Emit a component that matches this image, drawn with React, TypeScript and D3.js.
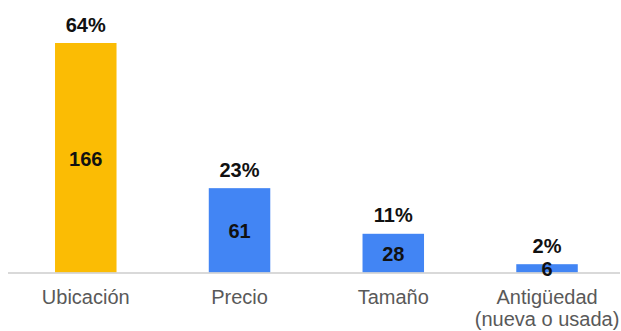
import React from "react";
import * as d3 from "d3";

const categories: string[][] = [["Ubicación"], ["Precio"], ["Tamaño"], ["Antigüedad", "(nueva o usada)"]];
const counts: number[] = [166, 61, 28, 6];
const percents: string[] = ["64%", "23%", "11%", "2%"];
const barColors: string[] = ["#FBBC04", "#4285F4", "#4285F4", "#4285F4"];

const W = 621;
const H = 331;

export default function App() {
  const keys = categories.map((c) => c.join(" "));
  const x = d3.scaleBand<string>().domain(keys).range([8.9, 623.9]).paddingInner(0.6).paddingOuter(0.3);
  const y = d3.scaleLinear().domain([0, 166]).range([272.5, 43]);
  const font = "'Liberation Sans', Arial, sans-serif";
  return (
    <div style={{ position: "absolute", left: 0, top: 0 }}>
      <svg width={W} height={H} style={{ display: "block", background: "#fff" }}>
        {counts.map((v, i) => {
          const k = keys[i];
          const bx = x(k)!;
          const bw = x.bandwidth();
          const top = y(v);
          const base = y(0);
          return <rect key={k} x={bx} y={top} width={bw} height={base - top} fill={barColors[i]} />;
        })}
        <line x1={8} x2={620} y1={273} y2={273} stroke="#cccccc" strokeWidth={1.5} />
        {counts.map((v, i) => {
          const k = keys[i];
          const cx = x(k)! + x.bandwidth() / 2;
          const top = y(v);
          const base = y(0);
          return (
            <g key={"l" + k} fontFamily={font}>
              <text x={cx} y={top - 11.5} textAnchor="middle" fontSize={20} fontWeight="bold" fill="#111">
                {percents[i]}
              </text>
              <text x={cx} y={(top + base) / 2 + 8} textAnchor="middle" fontSize={20} fontWeight="bold" fill="#111">
                {v}
              </text>
              {categories[i].map((line, j) => (
                <text key={j} x={cx} y={304 + j * 21.5} textAnchor="middle" fontSize={20} fill="#595959">
                  {line}
                </text>
              ))}
            </g>
          );
        })}
      </svg>
    </div>
  );
}
